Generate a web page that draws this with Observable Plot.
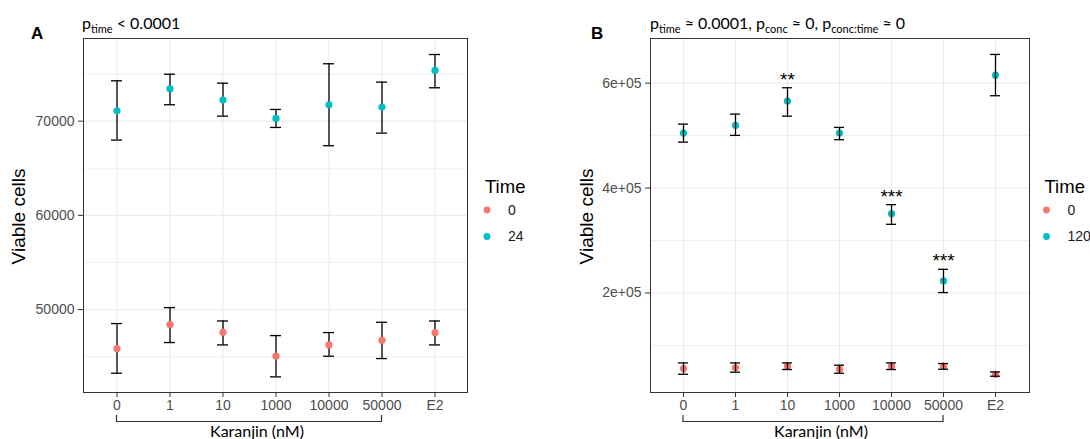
<!DOCTYPE html>
<html><head><meta charset="utf-8">
<script src="https://cdn.jsdelivr.net/npm/d3@7"></script>
<script src="https://cdn.jsdelivr.net/npm/@observablehq/plot@0.6"></script>
<style>
html,body{margin:0;padding:0;background:#fff;}
#wrap{position:relative;width:1090px;height:439px;overflow:hidden;background:#fff;}
#wrap svg{position:absolute;top:0;}
</style></head><body><div id="wrap"></div>
<script>
// ---------- data ----------
const categories = ["0", "1", "10", "1000", "10000", "50000", "E2"];

// Panel A (Time 0 and 24)
const aTimes = ["0", "24"];
const aT0Mean = [45860, 48410, 47590, 45050, 46250, 46740, 47560];
const aT0Low  = [43245, 46500, 46250, 42860, 45050, 44800, 46250];
const aT0High = [48515, 50210, 48790, 47240, 47560, 48650, 48790];
const aT24Mean = [71090, 73440, 72230, 70290, 71740, 71490, 75380];
const aT24Low  = [67990, 71740, 70530, 69330, 67390, 68730, 73540];
const aT24High = [74280, 74980, 74030, 71240, 76090, 74140, 77070];
const aYTicks = [50000, 60000, 70000];
const aYMinor = [45000, 55000, 65000, 75000];
const aYTickLabels = ["50000", "60000", "70000"];

// Panel B (Time 0 and 120)
const bTimes = ["0", "120"];
const bT0Mean = [56000, 57900, 60400, 54700, 60400, 60400, 45100];
const bT0Low  = [45100, 49000, 54100, 47000, 54100, 54700, 41300];
const bT0High = [66700, 66700, 66700, 62300, 66700, 65500, 49500];
const bT120Mean = [504800, 519400, 565700, 504800, 351200, 222900, 615200];
const bT120Low  = [487600, 500400, 537100, 492200, 330900, 200800, 576000];
const bT120High = [521900, 541000, 591200, 515600, 368400, 245100, 654700];
const bStars = ["", "", "**", "", "***", "***", ""];
const bYTicks = [200000, 400000, 600000];
const bYMinor = [100000, 300000, 500000];
const bYTickLabels = ["2e+05", "4e+05", "6e+05"];

const seriesColors = ["#F8766D", "#00BFC4"];

// ---------- build rows ----------
function rowsFor(times, means, lows, highs, stars) {
  const out = [];
  times.forEach((t, k) => {
    categories.forEach((c, i) => {
      out.push({cat: c, time: t, mean: means[k][i], low: lows[k][i], high: highs[k][i],
                star: stars && k === 1 ? stars[i] : ""});
    });
  });
  return out;
}
const rowsA = rowsFor(aTimes, [aT0Mean, aT24Mean], [aT0Low, aT24Low], [aT0High, aT24High], null);
const rowsB = rowsFor(bTimes, [bT0Mean, bT120Mean], [bT0Low, bT120Low], [bT0High, bT120High], bStars);

const FONT = "'Liberation Sans', Arial, sans-serif";

function panel({rows, times, yDomain, yTicks, yMinor, yLabels, width, marginLeft, pointsOnTop}) {
  const labelMap = new Map(yTicks.map((v, i) => [v, yLabels[i]]));
  const bars = [
    Plot.ruleX(rows, {x: "cat", y1: "low", y2: "high", stroke: "#000", strokeWidth: 1.3}),
    Plot.tickY(rows, {x: "cat", y: "low", stroke: "#000", strokeWidth: 1.3}),
    Plot.tickY(rows, {x: "cat", y: "high", stroke: "#000", strokeWidth: 1.3})
  ];
  const dots = [Plot.dot(rows, {x: "cat", y: "mean", fill: "time", r: 3.6})];
  return Plot.plot({
    width, height: 439,
    marginLeft, marginRight: 3, marginTop: 38, marginBottom: 47,
    style: {fontFamily: FONT, background: "transparent", overflow: "visible"},
    x: {type: "band", domain: categories, paddingInner: 0.8, paddingOuter: 0.5, label: null},
    y: {domain: yDomain, label: null},
    color: {domain: times, range: seriesColors},
    marks: [
      Plot.gridY(yMinor, {stroke: "#ebebeb", strokeOpacity: 1, strokeWidth: 0.8}),
      Plot.gridY(yTicks, {stroke: "#ebebeb", strokeOpacity: 1, strokeWidth: 1.1}),
      Plot.gridX(categories, {stroke: "#ebebeb", strokeOpacity: 1, strokeWidth: 1.1}),
      ...(pointsOnTop ? [...bars, ...dots] : [...dots, ...bars]),
      Plot.text(rows.filter(d => d.star), {x: "cat", y: "high", text: "star", dy: -8,
        fontSize: 19, fill: "#000", fontFamily: FONT}),
      Plot.frame({stroke: "#333", strokeWidth: 1}),
      Plot.axisY({ticks: yTicks, tickFormat: d => labelMap.get(d), tickSize: 5, tickPadding: 4,
        fontSize: 14, fill: "#4d4d4d", stroke: "#333", label: null}),
      Plot.axisX({tickSize: 5, tickPadding: 3, fontSize: 14, fill: "#4d4d4d", stroke: "#333", label: null})
    ]
  });
}

const wrap = document.getElementById("wrap");
const leftA = 0, leftB = 570;
const plotA = panel({rows: rowsA, times: aTimes, yDomain: [41200, 78770], yTicks: aYTicks, yMinor: aYMinor,
  yLabels: aYTickLabels, width: 470, marginLeft: 83, pointsOnTop: true});
const plotB = panel({rows: rowsB, times: bTimes, yDomain: [10300, 685100], yTicks: bYTicks, yMinor: bYMinor,
  yLabels: bYTickLabels, width: 462, marginLeft: 80, pointsOnTop: false});
plotA.style.left = leftA + "px";
plotB.style.left = leftB + "px";
wrap.appendChild(plotA);
wrap.appendChild(plotB);

// ---------- overlay: titles, labels, brackets, legends ----------
const ov = d3.select(wrap).append("svg")
  .attr("width", 1090).attr("height", 439)
  .style("left", "0px").style("pointer-events", "none")
  .attr("font-family", FONT);

function title(x, parts) {
  const t = ov.append("text").attr("x", x).attr("y", 28.5)
    .attr("font-family", "Lato, 'Open Sans', sans-serif").attr("font-size", 16).attr("fill", "#000");
  let sub = false;
  parts.forEach(p => {
    const isSub = p.startsWith("_");
    const txt = isSub ? p.slice(1) : p;
    const ts = t.append("tspan").text(txt).attr("font-size", isSub ? 11 : 16);
    if (isSub && !sub) ts.attr("dy", 4);
    if (!isSub && sub) ts.attr("dy", -4);
    sub = isSub;
  });
}
title(82, ["p", "_time", " < 0.0001"]);
title(650, ["p", "_time", " \u2248 0.0001, p", "_conc", " \u2248 0, p", "_conc:time", " \u2248 0"]);

ov.append("text").attr("x", 31).attr("y", 39).attr("font-size", 17).attr("font-weight", "bold").text("A");
ov.append("text").attr("x", 591).attr("y", 39).attr("font-size", 17).attr("font-weight", "bold").text("B");

function ylabel(x) {
  ov.append("text").attr("transform", `translate(${x},216.5) rotate(-90)`)
    .attr("text-anchor", "middle").attr("dy", "0.35em").attr("font-size", 19).attr("fill", "#000")
    .text("Viable cells");
}
ylabel(18);
ylabel(586);

function bracket(plot, left) {
  const sx = plot.scale("x");
  const x0 = left + sx.apply("0") + sx.bandwidth / 2;
  const x1 = left + sx.apply("50000") + sx.bandwidth / 2;
  const yb = 421.5;
  ov.append("path").attr("d", `M${x0},415V${yb}H${x1}V415`)
    .attr("fill", "none").attr("stroke", "#333").attr("stroke-width", 1.2);
  ov.append("text").attr("x", (x0 + x1) / 2 + 8).attr("y", 431.5).attr("dy", "0.35em")
    .attr("text-anchor", "middle").attr("font-family", "Lato, 'Open Sans', sans-serif")
    .attr("font-size", 16).attr("fill", "#000").text("Karanjin (nM)");
}
bracket(plotA, leftA);
bracket(plotB, leftB);

function legend(plot, x, times) {
  const sc = plot.scale("color");
  ov.append("text").attr("x", x).attr("y", 187).attr("dy", "0.35em")
    .attr("font-size", 18.5).attr("fill", "#000").text("Time");
  times.forEach((t, i) => {
    const y = 210 + i * 26.5;
    ov.append("circle").attr("cx", x + 2).attr("cy", y).attr("r", 3.4).attr("fill", sc.apply(t));
    ov.append("text").attr("x", x + 23).attr("y", y).attr("dy", "0.35em")
      .attr("font-size", 14).attr("fill", "#1a1a1a").text(t);
  });
}
legend(plotA, 485, aTimes);
legend(plotB, 1044.5, bTimes);
</script></body></html>
